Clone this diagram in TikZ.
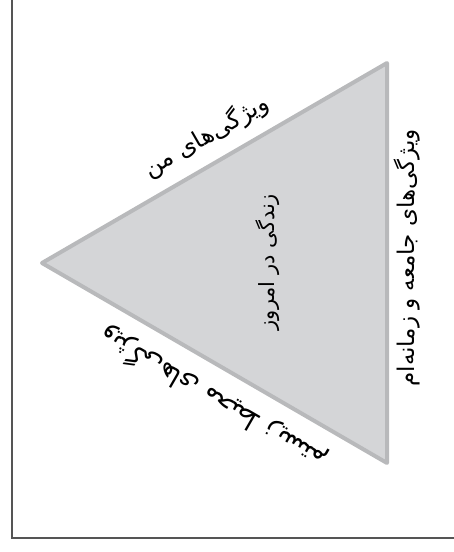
\documentclass[tikz,border=0pt]{standalone}
\usepackage{fontspec}
\newfontfamily\fa[Script=Arabic]{DejaVu Sans}
\TeXXeTstate=1
\definecolor{trifill}{RGB}{212,213,215}
\definecolor{triedge}{RGB}{184,185,187}
\definecolor{framecol}{RGB}{85,85,85}
\begin{document}
\begin{tikzpicture}[x=1pt,y=-1pt,
  lbl/.style={font=\fa, inner sep=0pt, text=black},
  tri/.style={fill=trifill, draw=triedge, line width=4pt, line join=round},
  framestyle/.style={draw=framecol, line width=1.3pt}]
\useasboundingbox (0,0) rectangle (454,552);
\coordinate (fA) at (12,-2);
\coordinate (fB) at (12,538);
\coordinate (fC) at (456,538);
\draw[framestyle] (fA) -- (fB) -- (fC);
\coordinate (L) at (42,263);
\coordinate (T) at (387,63);
\coordinate (B) at (387,463);
\draw[tri] (L) -- (T) -- (B) -- cycle;
\node[lbl, rotate=30, font=\fa\fontsize{24}{28}\selectfont] (me) at (206,136) {\beginR ویژگی‌های من\endR};
\node[lbl, rotate=90, font=\fa\fontsize{23}{27}\selectfont] (soc) at (407,258) {\beginR ویژگی‌های جامعه و زمانه‌ام\endR};
\node[lbl, rotate=90, font=\fa\fontsize{21}{25}\selectfont] (life) at (268,262) {\beginR زندگی در امروز\endR};
\node[lbl, rotate=150, font=\fa\fontsize{26}{30}\selectfont] (env) at (213,399) {\beginR ویژگی‌های محیط زیستم\endR};
\end{tikzpicture}
\end{document}
